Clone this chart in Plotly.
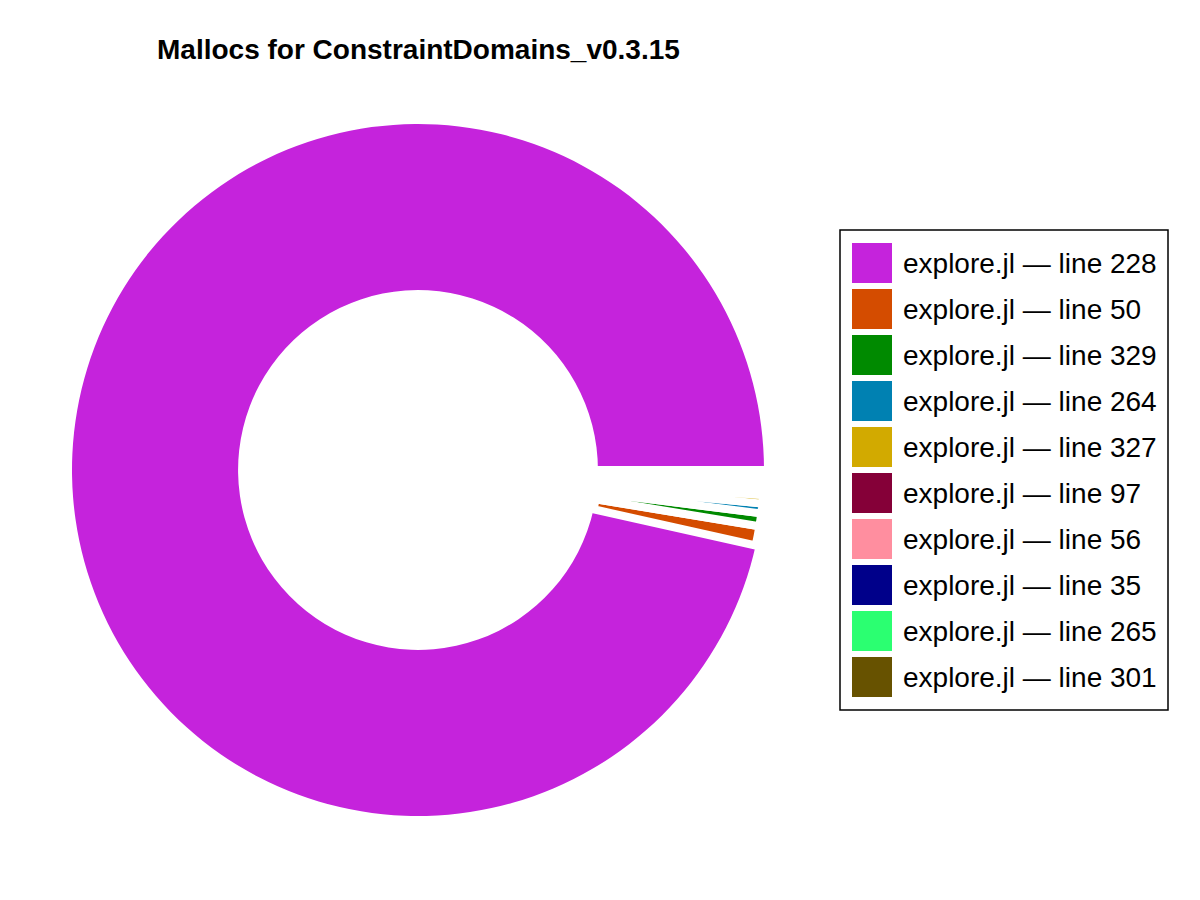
import plotly.graph_objects as go

# ---- data ----
labels = [
    "explore.jl — line 228",
    "explore.jl — line 50",
    "explore.jl — line 329",
    "explore.jl — line 264",
    "explore.jl — line 327",
    "explore.jl — line 97",
    "explore.jl — line 56",
    "explore.jl — line 35",
    "explore.jl — line 265",
    "explore.jl — line 301",
]
values = [96.5, 0.9, 0.6, 0.45, 0.4, 0.35, 0.25, 0.2, 0.2, 0.15]
colors = ["#c523dc", "#d44c00", "#008a00", "#0081b2", "#d2aa00",
          "#850038", "#ff8e9f", "#00008a", "#2bff71", "#675200"]
title_text = "Mallocs for ConstraintDomains_v0.3.15"

W, H = 1200, 900
OFF = 8  # page body margin


def px(x):
    return (x - OFF) / W


def py(y):
    return 1 - (y - OFF) / H


# first slice's clockwise-most edge sits below 3 o'clock by the share of the rest
rest_angle = 360.0 * sum(values[1:]) / sum(values)
line_widths = [0] + [8] * (len(values) - 1)

fig = go.Figure(go.Pie(
    labels=labels,
    values=values,
    marker=dict(colors=colors, line=dict(color="white", width=line_widths)),
    hole=0.52,
    sort=False,
    direction="counterclockwise",
    rotation=90 + rest_angle,
    textinfo="none",
    showlegend=False,
    domain=dict(x=[px(72), px(764)], y=[py(816), py(124)]),
))

shapes = [dict(type="rect", xref="paper", yref="paper",
               x0=px(840), x1=px(1168), y0=py(710), y1=py(230),
               line=dict(color="black", width=1.5), fillcolor="white", layer="below")]
annotations = []
for i, (lab, col) in enumerate(zip(labels, colors)):
    top = 243 + 46 * i
    shapes.append(dict(type="rect", xref="paper", yref="paper",
                       x0=px(852), x1=px(892), y0=py(top + 40), y1=py(top),
                       line=dict(width=0), fillcolor=col))
    annotations.append(dict(text=lab, xref="paper", yref="paper",
                            x=px(901), y=py(top + 20), xanchor="left", yanchor="middle",
                            showarrow=False,
                            font=dict(family="Liberation Sans, Arial, sans-serif", size=28, color="black")))

annotations.append(dict(text="<b>" + title_text + "</b>", xref="paper", yref="paper",
                        x=px(418), y=py(50), xanchor="center", yanchor="middle",
                        showarrow=False,
                        font=dict(family="Liberation Sans, Arial, sans-serif", size=28, color="black")))

fig.update_layout(
    width=W, height=H,
    margin=dict(l=0, r=0, t=0, b=0),
    paper_bgcolor="white", plot_bgcolor="white",
    shapes=shapes, annotations=annotations,
    showlegend=False,
)

fig.write_html("out.html")
